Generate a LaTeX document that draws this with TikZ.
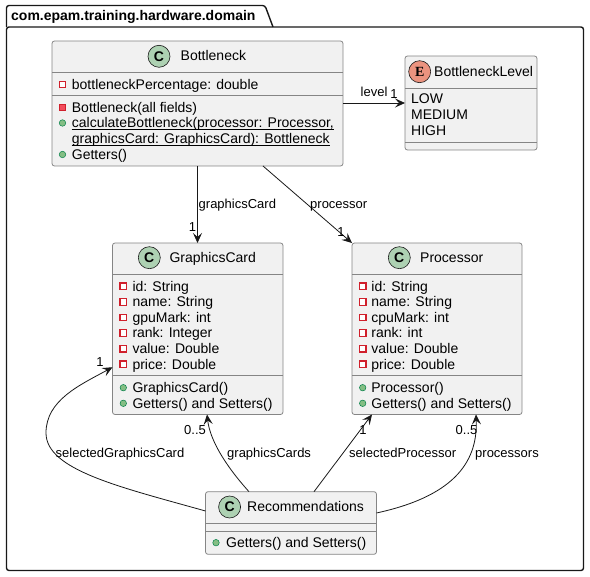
\documentclass[tikz,border=0pt]{standalone}
\usepackage{fontspec}
\setmainfont{Liberation Sans}
\newfontfamily\enumfont{Liberation Serif}
\usetikzlibrary{arrows.meta,positioning,calc}
\definecolor{umlfill}{HTML}{F1F1F1}
\definecolor{umlline}{HTML}{181818}
\definecolor{umlborder}{HTML}{858585}
\definecolor{classgreen}{HTML}{ADD1B2}
\definecolor{enumsalmon}{HTML}{EB937F}
\definecolor{privred}{HTML}{D0202C}
\definecolor{privfill}{HTML}{F24D5C}
\definecolor{pubgreen}{HTML}{038048}
\definecolor{pubfill}{HTML}{84BE84}

\tikzset{
  classbox/.style={draw=umlborder,fill=umlfill,line width=.8pt,rounded corners=2.5pt,inner sep=0pt,outer sep=0pt},
  sepline/.style={draw=umlborder,line width=.8pt},
  classmark/.style={circle,draw=umlline,fill=classgreen,line width=.6pt,minimum size=22pt,inner sep=0pt,font=\bfseries\fontsize{14}{14}\selectfont},
  enummark/.style={circle,draw=umlline,fill=enumsalmon,line width=.6pt,minimum size=22pt,inner sep=0pt,font=\enumfont\bfseries\fontsize{14}{14}\selectfont},
  privfield/.style={rectangle,draw=privred,fill=white,line width=1.2pt,minimum size=6.5pt,inner sep=0pt},
  privmethod/.style={rectangle,draw=privred,fill=privfill,line width=.6pt,minimum size=6.5pt,inner sep=0pt},
  pubmethod/.style={circle,draw=pubgreen,fill=pubfill,line width=.5pt,minimum size=6.5pt,inner sep=0pt},
  member/.style={anchor=base west,inner sep=0pt,font=\fontsize{14}{16}\selectfont},
  lbl/.style={anchor=base west,inner sep=0pt,font=\fontsize{13}{15}\selectfont},
  staticline/.style={draw=black,line width=.7pt},
  assoc/.style={draw=umlline,line width=.8pt,-{Stealth[length=10pt,width=9pt,inset=4pt]}}
}

\begin{document}
\begin{tikzpicture}[x=1pt,y=-1pt]
\useasboundingbox (0,0) rectangle (590,577);

% package frame
\draw[umlline,line width=1.4pt,rounded corners=2.5pt] (6.5,27) -- (6.5,5.5) -- (265,5.5) -- (273,27);
\draw[umlline,line width=1.4pt,rounded corners=2.5pt] (6.5,27) rectangle (583.5,570.5);
\node[anchor=base west,inner sep=0pt,font=\bfseries\fontsize{14}{16}\selectfont] (pkg) at (11,20.5) {com.epam.training.hardware.domain};

% Bottleneck
\node[classbox,minimum width=291pt,minimum height=125pt] (bneck) at (197.5,103.5) {};
\node[classmark] (bneck-c) at (159,56.3) {C};
\node[member] (bneck-name) at (180.5,61) {Bottleneck};
\draw[sepline] (bneck.north west |- 0,72) -- (bneck.north east |- 0,72);
\node[privfield] (bneck-i1) at (62.5,84.5) {};
\node[member] (bneck-a1) at (71.7,89.3) {bottleneckPercentage: double};
\draw[sepline] (bneck.north west |- 0,95) -- (bneck.north east |- 0,95);
\node[privmethod] (bneck-i2) at (62.5,107.5) {};
\node[member] (bneck-m1) at (71.7,112.3) {Bottleneck(all fields)};
\node[pubmethod] (bneck-i3) at (62.5,123) {};
\node[member] (bneck-m2) at (71.7,128) {calculateBottleneck(processor: Processor,};
\node[member] (bneck-m3) at (71.7,143.6) {graphicsCard: GraphicsCard): Bottleneck};
\draw[staticline] ([yshift=-1.5pt]bneck-m2.base west) -- ([yshift=-1.5pt]bneck-m2.base east);
\draw[staticline] ([yshift=-1.5pt]bneck-m3.base west) -- ([yshift=-1.5pt]bneck-m3.base east);
\node[pubmethod] (bneck-i4) at (62.5,154.5) {};
\node[member] (bneck-m4) at (71.7,159.4) {Getters()};

% BottleneckLevel
\node[classbox,minimum width=132pt,minimum height=94pt] (level) at (471,103) {};
\node[enummark] (level-e) at (419.7,71.7) {E};
\node[member] (level-name) at (434,77) {BottleneckLevel};
\draw[sepline] (level.north west |- 0,88) -- (level.north east |- 0,88);
\node[member] (level-v1) at (411,104) {LOW};
\node[member] (level-v2) at (411,119.7) {MEDIUM};
\node[member] (level-v3) at (411,135.3) {HIGH};
\draw[sepline] (level.north west |- 0,142) -- (level.north east |- 0,142);

% GraphicsCard
\node[classbox,minimum width=170.5pt,minimum height=171.5pt] (gcard) at (197.75,328.75) {};
\node[classmark] (gcard-c) at (149.3,257.7) {C};
\node[member] (gcard-name) at (169.3,262.7) {GraphicsCard};
\draw[sepline] (gcard.north west |- 0,274) -- (gcard.north east |- 0,274);
\node[privfield] (gcard-i1) at (123.3,286.3) {};
\node[member] (gcard-a1) at (132.3,291.2) {id: String};
\node[privfield] (gcard-i2) at (123.3,301.9) {};
\node[member] (gcard-a2) at (132.3,306.8) {name: String};
\node[privfield] (gcard-i3) at (123.3,317.5) {};
\node[member] (gcard-a3) at (132.3,322.4) {gpuMark: int};
\node[privfield] (gcard-i4) at (123.3,333.1) {};
\node[member] (gcard-a4) at (132.3,338) {rank: Integer};
\node[privfield] (gcard-i5) at (123.3,348.7) {};
\node[member] (gcard-a5) at (132.3,353.6) {value: Double};
\node[privfield] (gcard-i6) at (123.3,364.3) {};
\node[member] (gcard-a6) at (132.3,369.2) {price: Double};
\draw[sepline] (gcard.north west |- 0,375.7) -- (gcard.north east |- 0,375.7);
\node[pubmethod] (gcard-i7) at (123.3,387.7) {};
\node[member] (gcard-m1) at (132.3,392.6) {GraphicsCard()};
\node[pubmethod] (gcard-i8) at (123.3,403.3) {};
\node[member] (gcard-m2) at (132.3,408.2) {Getters() and Setters()};

% Processor
\node[classbox,minimum width=170pt,minimum height=171.5pt] (cpu) at (437,328.75) {};
\node[classmark] (cpu-c) at (399.3,257.7) {C};
\node[member] (cpu-name) at (420,262.7) {Processor};
\draw[sepline] (cpu.north west |- 0,274) -- (cpu.north east |- 0,274);
\node[privfield] (cpu-i1) at (362.7,286.3) {};
\node[member] (cpu-a1) at (371.2,291.2) {id: String};
\node[privfield] (cpu-i2) at (362.7,301.9) {};
\node[member] (cpu-a2) at (371.2,306.8) {name: String};
\node[privfield] (cpu-i3) at (362.7,317.5) {};
\node[member] (cpu-a3) at (371.2,322.4) {cpuMark: int};
\node[privfield] (cpu-i4) at (362.7,333.1) {};
\node[member] (cpu-a4) at (371.2,338) {rank: int};
\node[privfield] (cpu-i5) at (362.7,348.7) {};
\node[member] (cpu-a5) at (371.2,353.6) {value: Double};
\node[privfield] (cpu-i6) at (362.7,364.3) {};
\node[member] (cpu-a6) at (371.2,369.2) {price: Double};
\draw[sepline] (cpu.north west |- 0,375.7) -- (cpu.north east |- 0,375.7);
\node[pubmethod] (cpu-i7) at (362.7,387.7) {};
\node[member] (cpu-m1) at (371.2,392.6) {Processor()};
\node[pubmethod] (cpu-i8) at (362.7,403.3) {};
\node[member] (cpu-m2) at (371.2,408.2) {Getters() and Setters()};

% Recommendations
\node[classbox,minimum width=171pt,minimum height=62.6pt] (recs) at (291,523) {};
\node[classmark] (recs-c) at (229.6,507) {C};
\node[member] (recs-name) at (247,512) {Recommendations};
\draw[sepline] (recs.north west |- 0,523.3) -- (recs.north east |- 0,523.3);
\draw[sepline] (recs.north west |- 0,531) -- (recs.north east |- 0,531);
\node[pubmethod] (recs-i1) at (216,542.7) {};
\node[member] (recs-m1) at (226,547.6) {Getters() and Setters()};

% associations
\draw[assoc] (bneck.south) -- (bneck.south |- gcard.north);
\node[lbl] (lbl-gcard) at (198.5,209) {graphicsCard};
\node[lbl,anchor=base] (mul-gcard) at (192.5,232) {1};

\draw[assoc] ([xshift=65.5pt]bneck.south) -- (cpu.north west);
\node[lbl] (lbl-cpu) at (310,209) {processor};
\node[lbl,anchor=base] (mul-cpu) at (341,237) {1};

\draw[assoc] (bneck.east |- level.west) -- (level.west);
\node[lbl] (lbl-level) at (360.5,96.7) {level};
\node[lbl,anchor=base] (mul-level) at (394,99) {1};

\coordinate (sgc-bend) at (46,433);
\draw[assoc] ([yshift=12pt]recs.west) .. controls (120,487) and (46,470) .. (sgc-bend)
  .. controls (46,400) and (80,385) .. ([yshift=-38.5pt]gcard.west);
\node[lbl] (lbl-sgc) at (55.5,457.5) {selectedGraphicsCard};
\node[lbl,anchor=base] (mul-sgc) at (100,367) {1};

\draw[assoc] ([xshift=-42pt]recs.north) .. controls (225,465) and (210,440) .. ([xshift=9.25pt]gcard.south);
\node[lbl] (lbl-gcs) at (227,457.5) {graphicsCards};
\node[lbl] (mul-gcs) at (184,434.5) {0..5};

\draw[assoc] ([xshift=23pt]recs.north) -- ([xshift=-65pt]cpu.south);
\node[lbl] (lbl-sp) at (349,457.5) {selectedProcessor};
\node[lbl,anchor=base] (mul-sp) at (363,434.5) {1};

\draw[assoc] ([yshift=10pt]recs.east) .. controls (450,497) and (478,465) .. ([xshift=39pt]cpu.south);
\node[lbl] (lbl-procs) at (475,457.5) {processors};
\node[lbl] (mul-procs) at (455.5,434.5) {0..5};
\end{tikzpicture}
\end{document}
